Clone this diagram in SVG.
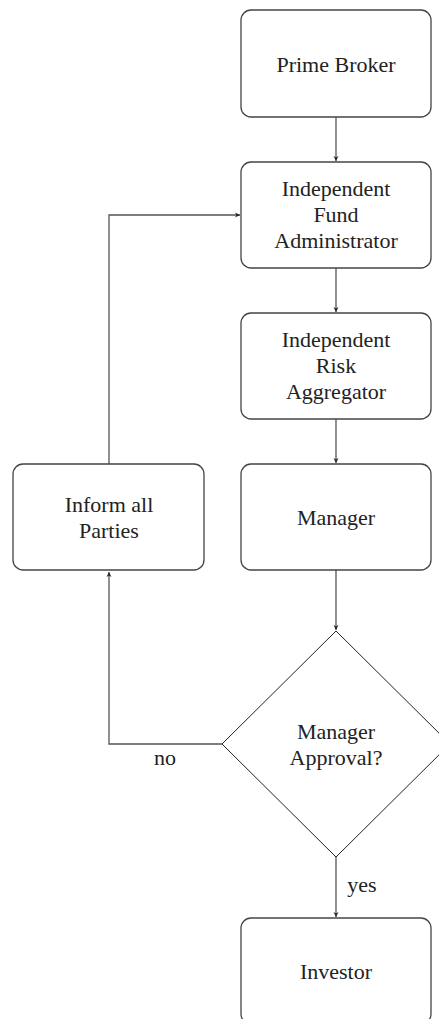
<svg xmlns="http://www.w3.org/2000/svg" width="439" height="1019" viewBox="0 0 439 1019" font-family="Liberation Serif, Times New Roman, serif">
<defs>
<style>
.box{fill:#fff;stroke:#444;stroke-width:1.3}
.dia{fill:#fff;stroke:#222;stroke-width:1}
.lbl{font-size:22px;fill:#222;text-anchor:middle}
.edge{fill:none;stroke:#555;stroke-width:1.3}
</style>
<marker id="ah" viewBox="0 0 10 10" refX="10" refY="5" markerWidth="5" markerHeight="8" markerUnits="userSpaceOnUse" orient="auto">
<path d="M0,0 L10,5 L0,10 L3,5 Z" fill="#222"/>
</marker>
</defs>
<rect width="439" height="1019" fill="#fff"/>
<g id="connectors">
<line class="edge" x1="336" y1="117" x2="336" y2="161" marker-end="url(#ah)"/>
<line class="edge" x1="336" y1="268" x2="336" y2="312" marker-end="url(#ah)"/>
<line class="edge" x1="336" y1="419" x2="336" y2="463" marker-end="url(#ah)"/>
<line class="edge" x1="336" y1="570" x2="336" y2="630" marker-end="url(#ah)"/>
<line class="edge" x1="336" y1="857" x2="336" y2="917" marker-end="url(#ah)"/>
<polyline class="edge" points="222,744 109,744 109,572" marker-end="url(#ah)"/>
<polyline class="edge" points="109,464 109,215 240,215" marker-end="url(#ah)"/>
<text class="lbl" x="165" y="765" font-family="Liberation Serif">no</text>
<text class="lbl" x="362" y="892" font-family="Liberation Serif">yes</text>
</g>
<g id="prime-broker">
<rect class="box" x="241" y="10" width="190" height="107" rx="10"/>
<text class="lbl" x="336" y="72" font-family="Liberation Serif">Prime Broker</text>
</g>
<g id="fund-administrator">
<rect class="box" x="241" y="162" width="190" height="106" rx="10"/>
<text class="lbl" x="336" y="196" font-family="Liberation Serif">Independent</text>
<text class="lbl" x="336" y="222" font-family="Liberation Serif">Fund</text>
<text class="lbl" x="336" y="248" font-family="Liberation Serif">Administrator</text>
</g>
<g id="risk-aggregator">
<rect class="box" x="241" y="313" width="190" height="106" rx="10"/>
<text class="lbl" x="336" y="347" font-family="Liberation Serif">Independent</text>
<text class="lbl" x="336" y="373" font-family="Liberation Serif">Risk</text>
<text class="lbl" x="336" y="399" font-family="Liberation Serif">Aggregator</text>
</g>
<g id="manager">
<rect class="box" x="241" y="464" width="190" height="106" rx="10"/>
<text class="lbl" x="336" y="525" font-family="Liberation Serif">Manager</text>
</g>
<g id="inform-all-parties">
<rect class="box" x="13" y="464" width="191" height="106" rx="10"/>
<text class="lbl" x="109" y="512" font-family="Liberation Serif">Inform all</text>
<text class="lbl" x="109" y="538" font-family="Liberation Serif">Parties</text>
</g>
<g id="manager-approval">
<polygon class="dia" points="336,631 450,744 336,857 222,744"/>
<text class="lbl" x="336" y="739" font-family="Liberation Serif">Manager</text>
<text class="lbl" x="336" y="765" font-family="Liberation Serif">Approval?</text>
</g>
<g id="investor">
<rect class="box" x="241" y="918" width="190" height="106" rx="10"/>
<text class="lbl" x="336" y="979" font-family="Liberation Serif">Investor</text>
</g>
</svg>
